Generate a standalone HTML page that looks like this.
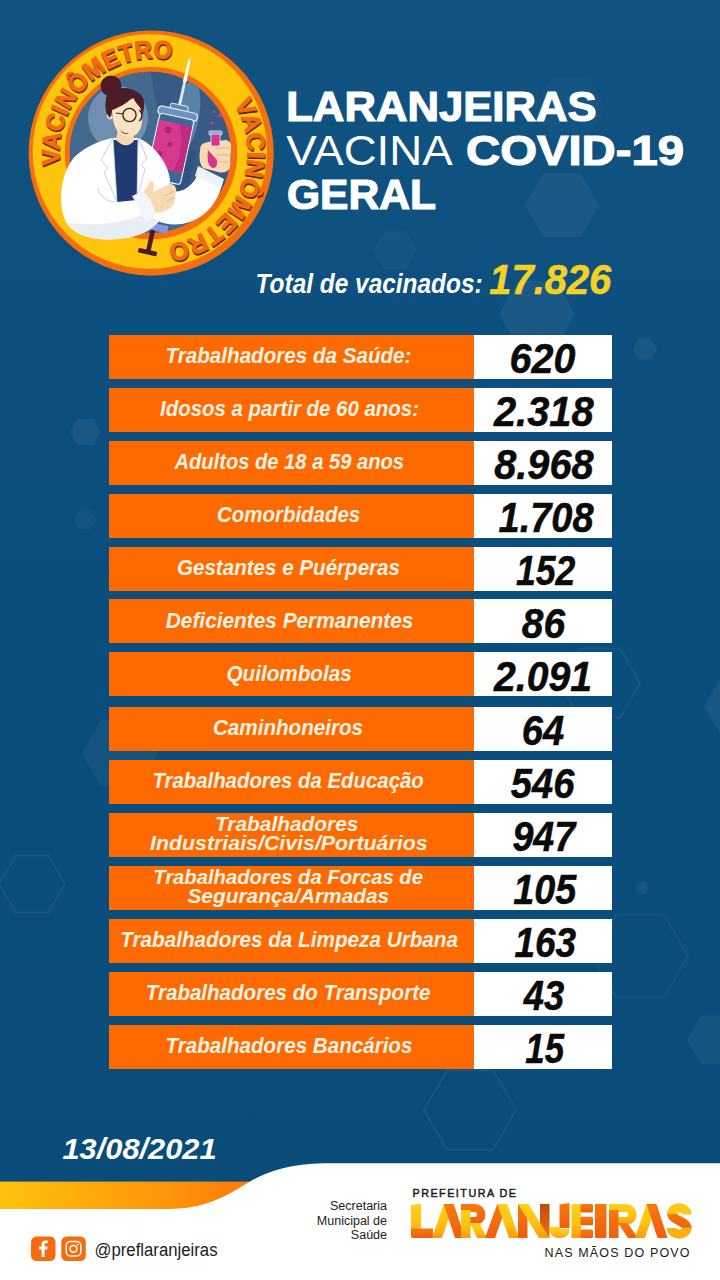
<!DOCTYPE html>
<html><head><meta charset="utf-8"><title>Vacinômetro</title>
<style>
html,body{margin:0;padding:0;}
body{width:720px;height:1280px;overflow:hidden;position:relative;font-family:"Liberation Sans",sans-serif;
 background:linear-gradient(180deg,#11527f 0%,#0d507f 25%,#0a4e7d 50%,#094c7a 100%);}
.ro{position:absolute;left:108.5px;width:366px;height:44px;background:#ff6a00;}
.rw{position:absolute;left:474px;width:138px;height:44px;background:#ffffff;}
svg{position:absolute;left:0;top:0;}
svg text{font-family:"Liberation Sans",sans-serif;}
.lb{font-size:22px;font-weight:bold;font-style:italic;fill:#fff3e6;}
.lb2{font-size:20.8px;}
.nm{font-size:43px;font-weight:bold;font-style:italic;fill:#0a0a0a;stroke:#0a0a0a;stroke-width:0.5px;stroke-linejoin:round;}
</style></head><body>
<!--BG_START--><svg width="720" height="1280" viewBox="0 0 720 1280" style="position:absolute;left:0;top:0"><polygon points="599.0,205.0 580.5,237.0 543.5,237.0 525.0,205.0 543.5,173.0 580.5,173.0" fill="#ffffff" fill-opacity="0.05"/><polygon points="575.0,314.0 556.0,346.9 518.0,346.9 499.0,314.0 518.0,281.1 556.0,281.1" fill="#ffffff" fill-opacity="0.055"/><polygon points="606.0,108.0 588.0,139.2 552.0,139.2 534.0,108.0 552.0,76.8 588.0,76.8" fill="#ffffff" fill-opacity="0.02"/><polygon points="100.0,432.0 92.5,445.0 77.5,445.0 70.0,432.0 77.5,419.0 92.5,419.0" fill="#ffffff" fill-opacity="0.055"/><polygon points="96.0,520.0 90.5,529.5 79.5,529.5 74.0,520.0 79.5,510.5 90.5,510.5" fill="#ffffff" fill-opacity="0.035"/><polygon points="158.0,753.0 139.0,785.9 101.0,785.9 82.0,753.0 101.0,720.1 139.0,720.1" fill="#ffffff" fill-opacity="0.04"/><polygon points="417.0,250.0 406.0,269.1 384.0,269.1 373.0,250.0 384.0,230.9 406.0,230.9" fill="#ffffff" fill-opacity="0.03"/><polygon points="657.0,349.0 651.0,359.4 639.0,359.4 633.0,349.0 639.0,338.6 651.0,338.6" fill="#ffffff" fill-opacity="0.05"/><polygon points="780.0,706.0 761.0,738.9 723.0,738.9 704.0,706.0 723.0,673.1 761.0,673.1" fill="#ffffff" fill-opacity="0.05"/><polygon points="649.0,888.0 645.5,894.1 638.5,894.1 635.0,888.0 638.5,881.9 645.5,881.9" fill="#ffffff" fill-opacity="0.05"/><polygon points="743.0,1040.0 729.0,1064.2 701.0,1064.2 687.0,1040.0 701.0,1015.8 729.0,1015.8" fill="#ffffff" fill-opacity="0.05"/><polygon points="516.0,1110.0 493.0,1149.8 447.0,1149.8 424.0,1110.0 447.0,1070.2 493.0,1070.2" fill="none" stroke="#ffffff" stroke-opacity="0.06" stroke-width="2"/><polygon points="65.0,884.0 48.5,912.6 15.5,912.6 -1.0,884.0 15.5,855.4 48.5,855.4" fill="none" stroke="#ffffff" stroke-opacity="0.05" stroke-width="2"/><polygon points="640.0,683.0 620.0,717.6 580.0,717.6 560.0,683.0 580.0,648.4 620.0,648.4" fill="none" stroke="#ffffff" stroke-opacity="0.05" stroke-width="2"/><polygon points="688.0,956.0 664.0,997.6 616.0,997.6 592.0,956.0 616.0,914.4 664.0,914.4" fill="none" stroke="#ffffff" stroke-opacity="0.05" stroke-width="2"/></svg><!--BG_END-->
<div class="ro" style="top:334.8px"></div><div class="rw" style="top:334.8px"></div>
<div class="ro" style="top:387.7px"></div><div class="rw" style="top:387.7px"></div>
<div class="ro" style="top:440.6px"></div><div class="rw" style="top:440.6px"></div>
<div class="ro" style="top:493.6px"></div><div class="rw" style="top:493.6px"></div>
<div class="ro" style="top:546.5px"></div><div class="rw" style="top:546.5px"></div>
<div class="ro" style="top:599.4px"></div><div class="rw" style="top:599.4px"></div>
<div class="ro" style="top:652.2px"></div><div class="rw" style="top:652.2px"></div>
<div class="ro" style="top:707.0px"></div><div class="rw" style="top:707.0px"></div>
<div class="ro" style="top:759.9px"></div><div class="rw" style="top:759.9px"></div>
<div class="ro" style="top:812.8px"></div><div class="rw" style="top:812.8px"></div>
<div class="ro" style="top:865.7px"></div><div class="rw" style="top:865.7px"></div>
<div class="ro" style="top:918.7px"></div><div class="rw" style="top:918.7px"></div>
<div class="ro" style="top:971.6px"></div><div class="rw" style="top:971.6px"></div>
<div class="ro" style="top:1024.5px"></div><div class="rw" style="top:1024.5px"></div>
<!--FOOTER-->
<svg width="720" height="1280" viewBox="0 0 720 1280">
<text class="lb" x="165.59" y="363.1" textLength="245.82" lengthAdjust="spacingAndGlyphs">Trabalhadores da Saúde:</text>
<text class="nm" x="509.58" y="373.1" textLength="65.83" lengthAdjust="spacingAndGlyphs">620</text>
<text class="lb" x="160.00" y="416.0" textLength="259.01" lengthAdjust="spacingAndGlyphs">Idosos a partir de 60 anos:</text>
<text class="nm" x="493.96" y="426.0" textLength="99.68" lengthAdjust="spacingAndGlyphs">2.318</text>
<text class="lb" x="174.40" y="468.9" textLength="229.60" lengthAdjust="spacingAndGlyphs">Adultos de 18 a 59 anos</text>
<text class="nm" x="494.19" y="478.9" textLength="99.42" lengthAdjust="spacingAndGlyphs">8.968</text>
<text class="lb" x="216.99" y="521.9" textLength="143.22" lengthAdjust="spacingAndGlyphs">Comorbidades</text>
<text class="nm" x="498.59" y="531.9" textLength="95.03" lengthAdjust="spacingAndGlyphs">1.708</text>
<text class="lb" x="176.99" y="574.8" textLength="223.01" lengthAdjust="spacingAndGlyphs">Gestantes e Puérperas</text>
<text class="nm" x="515.99" y="584.8" textLength="59.43" lengthAdjust="spacingAndGlyphs">152</text>
<text class="lb" x="165.80" y="627.7" textLength="247.61" lengthAdjust="spacingAndGlyphs">Deficientes Permanentes</text>
<text class="nm" x="521.78" y="637.7" textLength="43.27" lengthAdjust="spacingAndGlyphs">86</text>
<text class="lb" x="226.39" y="680.5" textLength="125.43" lengthAdjust="spacingAndGlyphs">Quilombolas</text>
<text class="nm" x="493.99" y="690.5" textLength="98.01" lengthAdjust="spacingAndGlyphs">2.091</text>
<text class="lb" x="212.99" y="735.3" textLength="150.03" lengthAdjust="spacingAndGlyphs">Caminhoneiros</text>
<text class="nm" x="521.77" y="745.3" textLength="42.43" lengthAdjust="spacingAndGlyphs">64</text>
<text class="lb" x="152.39" y="788.2" textLength="271.42" lengthAdjust="spacingAndGlyphs">Trabalhadores da Educação</text>
<text class="nm" x="510.79" y="798.2" textLength="63.63" lengthAdjust="spacingAndGlyphs">546</text>
<text class="lb lb2" x="214.97" y="830.9" textLength="143.44" lengthAdjust="spacingAndGlyphs">Trabalhadores</text>
<text class="lb lb2" x="150.00" y="850.3" textLength="277.60" lengthAdjust="spacingAndGlyphs">Industriais/Civis/Portuários</text>
<text class="nm" x="512.39" y="851.1" textLength="62.88" lengthAdjust="spacingAndGlyphs">947</text>
<text class="lb lb2" x="153.19" y="883.8" textLength="269.82" lengthAdjust="spacingAndGlyphs">Trabalhadores da Forcas de</text>
<text class="lb lb2" x="187.40" y="903.2" textLength="201.81" lengthAdjust="spacingAndGlyphs">Segurança/Armadas</text>
<text class="nm" x="513.17" y="904.0" textLength="63.08" lengthAdjust="spacingAndGlyphs">105</text>
<text class="lb" x="120.19" y="947.0" textLength="337.82" lengthAdjust="spacingAndGlyphs">Trabalhadores da Limpeza Urbana</text>
<text class="nm" x="514.38" y="957.0" textLength="61.65" lengthAdjust="spacingAndGlyphs">163</text>
<text class="lb" x="145.80" y="999.9" textLength="284.61" lengthAdjust="spacingAndGlyphs">Trabalhadores do Transporte</text>
<text class="nm" x="523.69" y="1009.9" textLength="40.53" lengthAdjust="spacingAndGlyphs">43</text>
<text class="lb" x="165.59" y="1052.8" textLength="246.82" lengthAdjust="spacingAndGlyphs">Trabalhadores Bancários</text>
<text class="nm" x="525.37" y="1062.8" textLength="38.70" lengthAdjust="spacingAndGlyphs">15</text>

<g class="hd">
<text x="286.2" y="120.6" font-size="42.3" font-weight="bold" fill="#fff" stroke="#fff" stroke-width="1.2" textLength="310.5" lengthAdjust="spacingAndGlyphs">LARANJEIRAS</text>
<text x="286.2" y="165" font-size="43.3" fill="#fff" textLength="166.5" lengthAdjust="spacingAndGlyphs">VACINA</text>
<text x="466" y="164.6" font-size="42.3" font-weight="bold" fill="#fff" stroke="#fff" stroke-width="1.2" textLength="218" lengthAdjust="spacingAndGlyphs">COVID-19</text>
<text x="287" y="208.8" font-size="42.3" font-weight="bold" fill="#fff" stroke="#fff" stroke-width="1.2" textLength="149" lengthAdjust="spacingAndGlyphs">GERAL</text>
<text x="255.6" y="293.3" font-size="28.5" font-weight="bold" font-style="italic" fill="#fff" textLength="227" lengthAdjust="spacingAndGlyphs">Total de vacinados:</text>
<text x="489.3" y="294" font-size="42.5" font-weight="bold" font-style="italic" fill="#f4d126" stroke="#f4d126" stroke-width="0.6" textLength="122" lengthAdjust="spacingAndGlyphs">17.826</text>
<text x="62.5" y="1158.9" font-size="29.8" font-weight="bold" font-style="italic" fill="#fff" textLength="154" lengthAdjust="spacingAndGlyphs">13/08/2021</text>
</g>
<!--BADGE_START--><g id="badge">
<defs>
<clipPath id="innerclip"><circle cx="150.2" cy="152.3" r="80.5"/></clipPath>
<path id="ring" d="M 60.9 166.6 A 94 94 0 0 1 247.1 140.4 A 94 94 0 0 1 60.9 166.6"/>
</defs>
<circle cx="151.2" cy="153.1" r="122.6" fill="#f4700f"/>
<circle cx="149.8" cy="151.5" r="117.2" fill="#ffc40c"/>
<circle cx="151" cy="153" r="86.3" fill="#f4700f"/>
<circle cx="150.2" cy="152.3" r="80.5" fill="#3f678f"/>
<g clip-path="url(#innerclip)">
 <!-- background blobs -->
 <path d="M70 152 A81 81 0 0 1 232 152 L232 240 L70 240Z" fill="#44698f"/>
 <ellipse cx="118" cy="118" rx="30" ry="32" fill="#6f8fb0"/>
 <path d="M150 70 L232 70 L232 200 L190 215 L165 150 Z" fill="#375b84"/>
 <ellipse cx="187" cy="116" rx="12" ry="36" fill="#5b82a8" transform="rotate(10 187 116)"/><path d="M150 150 L196 150 L186 200 L160 205Z" fill="#31527e"/>
</g>
<!-- syringe lower part -->
<g transform="rotate(12.3 172 140)">
 <rect x="170.6" y="58" width="2.8" height="50" fill="#dfeaf6"/>
 <polygon points="172,53 174,80 170,80" fill="#ffffff"/>
 <rect x="163" y="104" width="18" height="7" rx="2" fill="#5d86b0" stroke="#dfeaf7" stroke-width="1"/>
 <rect x="152" y="109" width="40" height="8" rx="3.5" fill="#6c93bb" stroke="#e6eef8" stroke-width="1.2"/>
 <rect x="154.5" y="116" width="35" height="66" rx="3" fill="#3f6796" stroke="#e6eef8" stroke-width="1.2"/>
 <rect x="155.3" y="123" width="33.4" height="47" rx="2" fill="#d63a8e"/>
 <path d="M176 123 h12.7 v47 h-9 q7-24 -3.7-47z" fill="#c22c80"/>
 <circle cx="166" cy="131" r="3.4" fill="#b3246f"/><circle cx="171" cy="145" r="2.4" fill="#b3246f"/><circle cx="163" cy="156" r="2.8" fill="#b3246f"/>
 <path d="M163 182 h18 l-4 7 h-10z" fill="#3f6796" stroke="#dbe7f5" stroke-width="1"/>
 <rect x="168" y="184" width="8" height="36" fill="#44709c" stroke="#dbe7f5" stroke-width="1"/>
 <rect x="170" y="205" width="4.5" height="30" fill="#2f4e78"/>
 <rect x="161" y="225" width="26" height="7.5" rx="1" fill="#7f97e6"/>
 <rect x="170.2" y="232" width="4.6" height="22" fill="#4a1d22"/>
 <rect x="162.5" y="252.5" width="19" height="4.6" rx="1" fill="#4a1d22"/>
</g>
<!-- scientist -->
<g>
 <!-- coat body -->
 <path d="M112 138 C95 142 78 150 70 163 C60 180 58 205 66 222 C76 240 110 243 135 236 C150 232 160 222 166 212 L170 180 C168 160 150 142 138 138 Z" fill="#ffffff"/>
 <path d="M66 222 C76 240 110 243 135 236 C150 232 158 224 164 214 L160 205 C140 222 95 228 66 222Z" fill="#e8edf6"/>
 <!-- right sleeve -->
 <path d="M160 182 C170 198 188 192 196 178 L199 167 L223 180 C219 203 204 220 182 224 C165 226 152 221 150 212 Z" fill="#ffffff"/>
 <path d="M198 166 L224 179 L221 188 L195 176Z" fill="#eef2fa"/>
 <!-- shirt -->
 <path d="M113 140 L138 140 L137 200 L117 202 Z" fill="#1f3c72"/>
 <!-- lapels -->
 <path d="M113 138 L101 160 L108 168 L104 172 L117 202 Z" fill="#ffffff" stroke="#b7c3dc" stroke-width="0.8"/>
 <path d="M138 138 L147 158 L141 165 L145 169 L137 200 Z" fill="#ffffff" stroke="#b7c3dc" stroke-width="0.8"/>
 <path d="M98 188 q2 12 16 14" fill="none" stroke="#b7c3dc" stroke-width="0.8"/>
 <!-- neck -->
 <path d="M119 124 L133 126 L134 141 Q126 150 116 140 Z" fill="#f7d9b4"/>
 <!-- hair back / bun -->
 <circle cx="111" cy="86" r="10.5" fill="#4a1d27"/>
 <path d="M106 100 C106 88 128 84 140 94 C146 99 144 110 142 116 L130 104 L112 110 L110 120 C106 116 105 108 106 100Z" fill="#4a1d27"/>
 <!-- face -->
 <path d="M112 108 C120 104 128 100 134 98 C140 104 143 112 142 122 C141 132 135 138 127 137 C118 136 112 126 112 108Z" fill="#fbe2c2"/>
 <path d="M108 112 a3.6 4.2 0 1 0 5 6z" fill="#fbe2c2"/>
 <path d="M106 100 C106 88 128 84 140 94 C145 98 144 106 143 110 C138 106 134 100 133 97 C126 104 118 108 112 110 L110 118 C106 114 105 108 106 100Z" fill="#4a1d27"/>
 <!-- glasses -->
 <circle cx="129.5" cy="115" r="6.6" fill="none" stroke="#3a1a1f" stroke-width="1.3"/>
 <path d="M139.2 110 a6 6.6 0 0 1 0 11" fill="none" stroke="#3a1a1f" stroke-width="1.3"/>
 <path d="M116 113 L123 114" stroke="#3a1a1f" stroke-width="1.1"/>
 <path d="M119 129 q4 5 10 4 q-5 3 -10 -4z" fill="#3a1a1f"/>
 <!-- left hand -->
 <path d="M143 193 L150 182 Q154 180 154 186 L153 192 L170 184 Q177 184 176 192 L174 204 Q168 212 156 213 Q146 208 143 193Z" fill="#f7d9b4"/>
 <path d="M165 196 l9 -5 M167 201 l8 -4" stroke="#d9b48a" stroke-width="0.9"/>
 <!-- left cuff -->
 <path d="M132 196 L143 191 Q152 200 156 214 L146 222 Q138 206 132 196Z" fill="#f2f5fb"/>
 <!-- right hand (fist) -->
 <path d="M200 151 Q199 143 208 142 L226 140 Q232 141 231 148 L230 168 Q226 174 218 172 L203 168 Q198 162 200 151Z" fill="#f7d9b4"/>
 <path d="M216 148 h14 M217 155 h13 M217 162 h12" stroke="#d9b48a" stroke-width="0.9"/>
 <!-- test tube -->
 <rect x="209" y="131" width="13" height="4" rx="1" fill="#7ea0c6" stroke="#e6eef8" stroke-width="0.8"/>
 <rect x="211" y="134" width="9" height="12" fill="#d5368c" stroke="#e6eef8" stroke-width="0.8"/>
 <path d="M208 150 q-2 14 4 18 q6 1 5 -8 z" fill="#d5368c"/>
 <circle cx="212" cy="123" r="1.6" fill="#d5368c"/><circle cx="220" cy="115" r="2" fill="#d5368c"/><circle cx="214" cy="112" r="1.2" fill="#d5368c"/>
</g>
<!-- ring text -->
<g font-weight="bold" font-size="25" stroke-width="0.9" stroke-linejoin="round">
 <text fill="#5a2410" stroke="#5a2410"><textPath href="#ring" startOffset="0.6" textLength="178" lengthAdjust="spacingAndGlyphs">VACINÔMETRO</textPath></text>
 <text fill="#5a2410" stroke="#5a2410"><textPath href="#ring" startOffset="257" textLength="184" lengthAdjust="spacingAndGlyphs">VACINÔMETRO</textPath></text>
 <g transform="translate(-0.6,-1.6)">
 <text fill="#f26a12" stroke="#f26a12"><textPath href="#ring" startOffset="0.6" textLength="178" lengthAdjust="spacingAndGlyphs">VACINÔMETRO</textPath></text>
 <text fill="#f26a12" stroke="#f26a12"><textPath href="#ring" startOffset="257" textLength="184" lengthAdjust="spacingAndGlyphs">VACINÔMETRO</textPath></text>
 </g>
</g>
</g>
<!--BADGE_END-->
<!--FOOT_START--><g id="footer">
<defs>
<linearGradient id="band" x1="0" x2="1" y1="0" y2="0"><stop offset="0" stop-color="#ffc20e"/><stop offset="0.55" stop-color="#ff9a0a"/><stop offset="1" stop-color="#ff7406"/></linearGradient>
<linearGradient id="lg1" x1="0" x2="0" y1="0" y2="1"><stop offset="0" stop-color="#ffc20e"/><stop offset="0.5" stop-color="#fb9a10"/><stop offset="1" stop-color="#f36f12"/></linearGradient>
<linearGradient id="ly" x1="0" x2="0" y1="0" y2="1"><stop offset="0" stop-color="#ffd21c"/><stop offset="0.6" stop-color="#ffc010"/><stop offset="1" stop-color="#fb9a10"/></linearGradient><linearGradient id="lo" x1="0" x2="0" y1="0" y2="1"><stop offset="0" stop-color="#f8780f"/><stop offset="1" stop-color="#ee5f0c"/></linearGradient><linearGradient id="ld" x1="0" x2="0" y1="0" y2="1"><stop offset="0" stop-color="#c24a0a"/><stop offset="1" stop-color="#f07010"/></linearGradient>
</defs>
<rect x="0" y="1181.6" width="270" height="30" fill="url(#band)"/>
<path d="M0 1209 L168 1209 C205 1209 225 1197 250 1181.6 C272 1169 295 1163.3 330 1163.3 L720 1163.3 L720 1280 L0 1280 Z" fill="#ffffff"/>
<!-- social -->
<rect x="31" y="1236.5" width="24.5" height="24.5" rx="5.5" fill="#f36d0e"/>
<path d="M44.6 1257 v-7.6 h2.6 l0.4 -2.9 h-3 v-1.9 c0 -0.9 0.3 -1.4 1.5 -1.4 h1.6 v-2.6 c-0.3 0 -1.2 -0.1 -2.3 -0.1 c-2.3 0 -3.8 1.4 -3.8 3.9 v2.1 h-2.5 v2.9 h2.5 v7.6z" fill="#fff"/>
<rect x="61.3" y="1236.5" width="24.5" height="24.5" rx="5.5" fill="#f36d0e"/>
<rect x="66.3" y="1241.5" width="14.5" height="14.5" rx="4" fill="none" stroke="#fff" stroke-width="1.5"/>
<circle cx="73.5" cy="1248.8" r="3.4" fill="none" stroke="#fff" stroke-width="1.5"/>
<circle cx="77.6" cy="1244.6" r="0.9" fill="#fff"/>
<text x="94.5" y="1255.5" font-size="18" fill="#1c1c1c" textLength="123" lengthAdjust="spacingAndGlyphs">@preflaranjeiras</text>
<!-- secretaria -->
<g font-size="12.5" fill="#222" text-anchor="end">
<text x="387" y="1210.3">Secretaria</text>
<text x="387" y="1224.8">Municipal de</text>
<text x="387" y="1239.3">Saúde</text>
</g>
<text x="412.5" y="1196.8" font-size="10.8" fill="#1a1a1a" stroke="#1a1a1a" stroke-width="0.45" textLength="103.5" lengthAdjust="spacing">PREFEITURA DE</text>
<text x="544.5" y="1256.5" font-size="12.5" fill="#1a1a1a" textLength="145" lengthAdjust="spacing">NAS MÃOS DO POVO</text>
<g id="logo"><polygon points="411,1205 421,1203.5 421,1238 411,1238" fill="url(#ly)"/>
<path d="M411 1228.5 H433 V1238 H415 Q411 1238 411 1234Z" fill="url(#lo)"/>
<polygon points="432,1238 442,1238 453.75,1204 443.75,1204" fill="url(#ly)"/><polygon points="443.75,1204 453.75,1204 465,1238 455,1238" fill="url(#lo)"/>
<path d="M461 1204 H475 A10.5 10.5 0 0 1 475 1225 H469 V1217 H474.5 A2.5 2.5 0 0 0 474.5 1212 H461Z" fill="url(#lo)"/><polygon points="461,1210 470.5,1210 470.5,1238 461,1238" fill="url(#ly)"/><polygon points="470,1223 479.5,1223 487,1238 477,1238" fill="url(#ly)"/>
<polygon points="485,1238 495,1238 507.25,1204 497.25,1204" fill="url(#lo)"/><polygon points="497.25,1204 507.25,1204 519,1238 509,1238" fill="url(#ly)"/>
<polygon points="518,1204 527.5,1204 527.5,1238 518,1238" fill="url(#lo)"/>
<polygon points="540,1204 549.5,1204 549.5,1238 540,1238" fill="url(#ld)"/>
<polygon points="518,1204 528.5,1204 549.5,1238 539,1238" fill="url(#ly)"/>
<polygon points="559.5,1204.5 569.5,1203 569.5,1228 559.5,1228" fill="url(#lo)"/>
<path d="M549.5 1227 H559.5 Q559.5 1229.5 562 1229 H569.5 Q569.5 1238 559.5 1238 Q549.5 1238 549.5 1227Z" fill="url(#ly)"/>
<polygon points="571.5,1204 581,1204 581,1238 571.5,1238" fill="url(#ly)"/>
<rect x="580.5" y="1204" width="12.5" height="8.5" rx="1.5" fill="url(#lo)"/>
<rect x="580.5" y="1216.8" width="12.5" height="8.5" rx="1.5" fill="url(#lo)"/>
<rect x="580.5" y="1229.5" width="12.5" height="8.5" rx="1.5" fill="url(#lo)"/>
<rect x="595" y="1204" width="11.5" height="34" fill="url(#lo)"/>
<path d="M609 1204 H626 A10.5 10.5 0 0 1 626 1225 H617 V1217 H625.5 A2.5 2.5 0 0 0 625.5 1212 H609Z" fill="url(#ly)"/><polygon points="609,1210 618.5,1210 618.5,1238 609,1238" fill="url(#lo)"/><polygon points="618,1223 627.5,1223 638,1238 628,1238" fill="url(#lo)"/>
<polygon points="635,1238 645,1238 656.5,1204 646.5,1204" fill="url(#ly)"/><polygon points="646.5,1204 656.5,1204 667.5,1238 657.5,1238" fill="url(#lo)"/>
<g fill="none" stroke-width="9.2">
<path d="M671.5 1212.5 C671.5 1221.5 687 1220 687 1229" stroke="url(#lo)"/>
<path d="M687 1214.5 C687 1205.8 671.5 1205.8 671.5 1214" stroke="#ffc814"/>
<path d="M687 1227.5 C687 1236.2 671.5 1236.2 671.5 1228" stroke="#fdb010"/>
</g></g>
</g>
<!--FOOT_END-->

</svg>
</body></html>
